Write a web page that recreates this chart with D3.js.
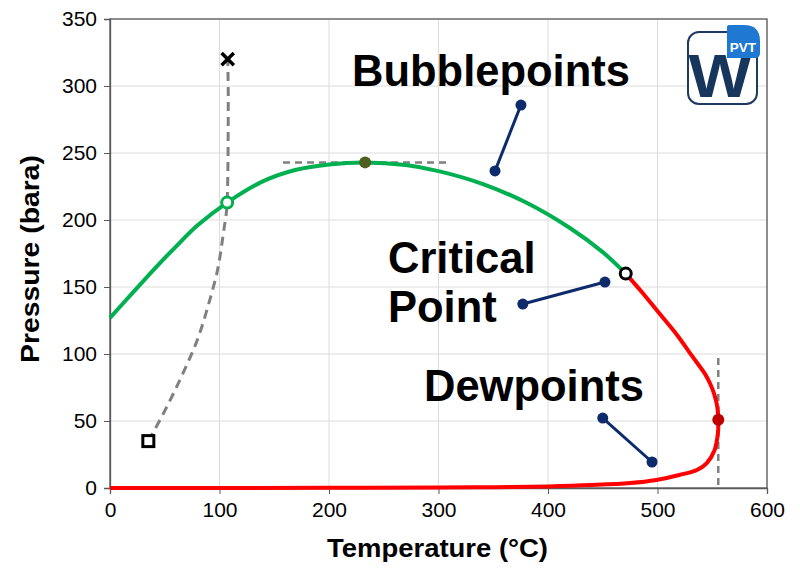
<!DOCTYPE html>
<html>
<head>
<meta charset="utf-8">
<script src="https://cdn.jsdelivr.net/npm/d3@7"></script>
<style>
  body { margin: 0; background: #fff; }
  svg { font-family: "Liberation Sans", Arial, sans-serif; }
</style>
</head>
<body>
<div id="chart"></div>
<script>
// Bubblepoint branch (T °C, P bara)
const bubbleT = [0, 20, 40, 60, 80, 107, 140, 170, 200, 233, 270, 300, 340, 380, 420, 450, 471];
const bubbleP = [127, 145, 163, 180, 196, 213, 229, 237.5, 241.5, 243, 241, 236.5, 227, 213, 194, 176, 160];

// Dewpoint branch
const dewT = [471, 487, 502, 518, 532, 543.5, 548, 551.8, 554.7, 555.5, 555.2, 552, 545, 536, 520, 499, 475, 440, 400, 350, 300, 200, 100, 0];
const dewP = [160, 145, 130, 114, 98, 85, 78, 70, 60, 51, 41, 28, 18.6, 13.4, 9.7, 6, 3.7, 2.2, 1.2, 0.6, 0.3, 0.1, 0, 0];

// Grey dashed curve from the square up to the cross
const dashT = [35, 49, 64, 79.5, 91, 97.5, 103.5, 107, 107.8, 108, 107.5];
const dashP = [35, 56, 81, 110, 140, 160, 190, 213, 250, 290, 320];

// Special points
const cricondenbar = { T: 233, P: 243 };
const critical = { T: 471, P: 160 };
const cricondentherm = { T: 555.5, P: 51 };
const openGreen = { T: 107, P: 213 };
const squarePt = { T: 35, P: 35 };
const crossPt = { T: 107.5, P: 320 };

// Helper dashed segments
const hLine = { T: [158, 309], P: [243, 243] };
const vLine = { T: [555.5, 555.5], P: [97, 0] };

// Label leaders
const leaders = [
  { T: [351.6, 375.3], P: [236.6, 285.8] },
  { T: [377, 452], P: [137.3, 153.7] },
  { T: [450, 495], P: [52.2, 19.4] }
];

const xTicks = [0, 100, 200, 300, 400, 500, 600];
const yTicks = [0, 50, 100, 150, 200, 250, 300, 350];

const W = 800, H = 579;
const margin = { top: 19, right: 33, bottom: 91, left: 110 };
const width = W - margin.left - margin.right,
  height = H - margin.top - margin.bottom;

const svg = d3.select("#chart").append("svg")
  .attr("width", W).attr("height", H);

const g = svg.append("g")
  .attr("transform", `translate(${margin.left},${margin.top})`);

const x = d3.scaleLinear().domain([0, 600]).range([0, width]);
const y = d3.scaleLinear().domain([0, 350]).range([height, 0]);

// Gridlines
g.append("g").selectAll("line").data(yTicks.slice(1)).enter().append("line")
  .attr("x1", 0).attr("x2", width)
  .attr("y1", d => y(d)).attr("y2", d => y(d))
  .attr("stroke", "#dcdcdc").attr("stroke-width", 1);
g.append("g").selectAll("line").data(xTicks.slice(1)).enter().append("line")
  .attr("y1", 0).attr("y2", height)
  .attr("x1", d => x(d)).attr("x2", d => x(d))
  .attr("stroke", "#dcdcdc").attr("stroke-width", 1);

// Frame
g.append("rect").attr("width", width).attr("height", height)
  .attr("fill", "none").attr("stroke", "#595959").attr("stroke-width", 1.3);

// Axes
const xAxis = g.append("g").attr("transform", `translate(0,${height})`)
  .call(d3.axisBottom(x).tickValues(xTicks).tickSize(6).tickPadding(8));
const yAxis = g.append("g")
  .call(d3.axisLeft(y).tickValues(yTicks).tickSize(6).tickPadding(7));
[xAxis, yAxis].forEach(a => {
  a.select(".domain").attr("stroke", "#595959").attr("stroke-width", 1.3);
  a.selectAll(".tick line").attr("stroke", "#595959");
  a.selectAll("text").attr("font-size", 21).attr("fill", "#000")
    .attr("font-family", "Liberation Sans, Arial, sans-serif");
});

// Axis titles
svg.append("text").attr("x", 437.5).attr("y", 557)
  .attr("text-anchor", "middle").attr("font-size", 26.5).attr("font-weight", "bold")
  .attr("textLength", 221).attr("lengthAdjust", "spacingAndGlyphs")
  .text("Temperature (°C)");
svg.append("text").attr("transform", "translate(39,259) rotate(-90)")
  .attr("text-anchor", "middle").attr("font-size", 26.5).attr("font-weight", "bold")
  .attr("textLength", 208).attr("lengthAdjust", "spacingAndGlyphs")
  .text("Pressure (bara)");

const zip = (ts, ps) => ts.map((t, i) => [t, ps[i]]);
const lineCR = d3.line().x(d => x(d[0])).y(d => y(d[1])).curve(d3.curveCatmullRom.alpha(0.5));
const lineMY = d3.line().x(d => x(d[0])).y(d => y(d[1])).curve(d3.curveMonotoneY);
const lineStraight = d3.line().x(d => x(d[0])).y(d => y(d[1]));

// Dashed helpers
g.append("path").datum(zip(hLine.T, hLine.P)).attr("d", lineStraight)
  .attr("fill", "none").attr("stroke", "#808080").attr("stroke-width", 2.5)
  .attr("stroke-dasharray", "7,5");
g.append("path").datum(zip(vLine.T, vLine.P)).attr("d", lineStraight)
  .attr("fill", "none").attr("stroke", "#808080").attr("stroke-width", 2.5)
  .attr("stroke-dasharray", "7,5");
g.append("path").datum(zip(dashT, dashP)).attr("d", lineMY)
  .attr("fill", "none").attr("stroke", "#808080").attr("stroke-width", 3)
  .attr("stroke-dasharray", "9,6");

// Envelope
g.append("path").datum(zip(dewT, dewP)).attr("d", lineCR)
  .attr("fill", "none").attr("stroke", "#ff0000").attr("stroke-width", 4);
g.append("path").datum(zip(bubbleT, bubbleP)).attr("d", lineCR)
  .attr("fill", "none").attr("stroke", "#00b050").attr("stroke-width", 4);

// Leaders
leaders.forEach(l => {
  const pts = zip(l.T, l.P);
  g.append("path").datum(pts).attr("d", lineStraight)
    .attr("stroke", "#0d2b6b").attr("stroke-width", 3).attr("fill", "none");
  g.selectAll(null).data(pts).enter().append("circle")
    .attr("cx", d => x(d[0])).attr("cy", d => y(d[1])).attr("r", 5.5)
    .attr("fill", "#0d2b6b");
});

// Markers
g.append("circle").attr("cx", x(cricondenbar.T)).attr("cy", y(cricondenbar.P))
  .attr("r", 6).attr("fill", "#4f5f22");
g.append("circle").attr("cx", x(cricondentherm.T)).attr("cy", y(cricondentherm.P))
  .attr("r", 6).attr("fill", "#c00000");
g.append("circle").attr("cx", x(openGreen.T)).attr("cy", y(openGreen.P))
  .attr("r", 5.5).attr("fill", "#fff").attr("stroke", "#00b050").attr("stroke-width", 3);
g.append("circle").attr("cx", x(critical.T)).attr("cy", y(critical.P))
  .attr("r", 5.5).attr("fill", "#fff").attr("stroke", "#000").attr("stroke-width", 3);
g.append("rect").attr("x", x(squarePt.T) - 5.5).attr("y", y(squarePt.P) - 5.5)
  .attr("width", 11).attr("height", 11).attr("fill", "#fff")
  .attr("stroke", "#000").attr("stroke-width", 3);
g.append("path")
  .attr("d", d3.symbol().type(d3.symbolX).size(100)())
  .attr("transform", `translate(${x(crossPt.T)},${y(crossPt.P)})`)
  .attr("stroke", "#000").attr("stroke-width", 3.5);

// Labels
const labelStyle = s => s.attr("font-size", 43.5).attr("font-weight", "bold").attr("fill", "#000");
svg.append("text").attr("x", 352).attr("y", 86).text("Bubblepoints").call(labelStyle);
svg.append("text").attr("x", 388).attr("y", 273).text("Critical").call(labelStyle);
svg.append("text").attr("x", 388).attr("y", 322).text("Point").call(labelStyle);
svg.append("text").attr("x", 424).attr("y", 401).text("Dewpoints").call(labelStyle);

// Logo
const logo = svg.append("g");
logo.append("rect").attr("x", 688).attr("y", 32).attr("width", 69).attr("height", 72)
  .attr("rx", 11).attr("fill", "#fff").attr("stroke", "#1f3864").attr("stroke-width", 2);
logo.append("text").attr("x", 720).attr("y", 97).attr("text-anchor", "middle")
  .attr("font-size", 61).attr("font-weight", "bold").attr("fill", "#16365c")
  .attr("textLength", 63).attr("lengthAdjust", "spacingAndGlyphs").text("W");
logo.append("path")
  .attr("d", "M727,58 L727,27 Q727,25 729,25 L744,25 Q760,25 760,41 L760,53 Q760,58 755,58 Z")
  .attr("fill", "#1f78d1");
logo.append("text").attr("x", 743).attr("y", 52).attr("text-anchor", "middle")
  .attr("font-size", 13.5).attr("font-weight", "bold").attr("fill", "#fff").text("PVT");
</script>
</body>
</html>
